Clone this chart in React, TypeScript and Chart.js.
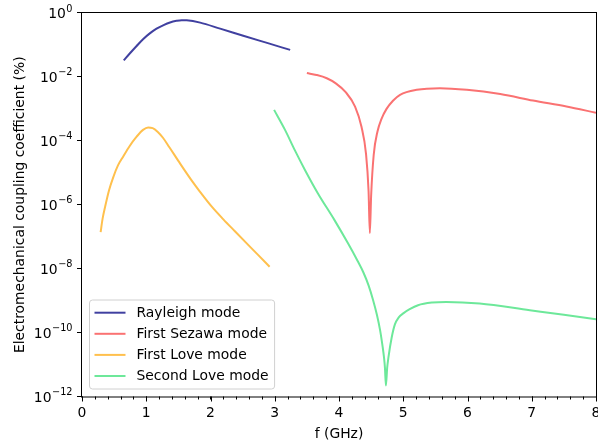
import { useEffect, useRef } from "react";
import { Chart, registerables } from "chart.js";

Chart.register(...registerables);

// ---- data (f in GHz, K² in %) ----
const rayleighF = [0.65, 0.75, 0.85, 0.95, 1.06, 1.16, 1.27, 1.37, 1.47, 1.55, 1.63, 1.84, 2.15, 2.51, 2.88, 3.24];
const rayleighK = [0.0327, 0.056, 0.093, 0.151, 0.234, 0.324, 0.42, 0.507, 0.569, 0.598, 0.592, 0.5, 0.324, 0.195, 0.116, 0.07];

const sezawaF = [3.5, 3.65, 3.81, 3.95, 4.1, 4.25, 4.35, 4.42, 4.46, 4.48, 4.5, 4.54, 4.6, 4.66, 4.74, 4.84, 4.95, 5.21, 5.57, 5.99, 6.51, 7.02, 7.54, 8.0];
const sezawaK = [1.32e-2, 1.15e-2, 9.1e-3, 6.3e-3, 3.4e-3, 1.18e-3, 2.75e-4, 4.0e-5, 2.7e-6, 1.3e-7, 1.9e-6, 3.6e-5, 2.0e-4, 4.8e-4, 1.0e-3, 1.8e-3, 2.75e-3, 3.96e-3, 4.45e-3, 3.96e-3, 2.9e-3, 1.82e-3, 1.18e-3, 7.6e-4];

const love1F = [0.29, 0.32, 0.36, 0.42, 0.49, 0.56, 0.64, 0.74, 0.85, 0.95, 1.03, 1.1, 1.18, 1.26, 1.36, 1.53, 1.7, 1.84, 2.02, 2.2, 2.38, 2.56, 2.74, 2.92];
const love1K = [1.4e-7, 3.6e-7, 8.7e-7, 2.8e-6, 7.6e-6, 1.7e-5, 3.2e-5, 6.8e-5, 1.35e-4, 2.2e-4, 2.6e-4, 2.5e-4, 1.9e-4, 1.25e-4, 6.3e-5, 1.9e-5, 6.0e-6, 2.5e-6, 8.7e-7, 3.5e-7, 1.48e-7, 6.3e-8, 2.7e-8, 1.15e-8];

const love2F = [2.99, 3.16, 3.31, 3.47, 3.67, 3.93, 4.14, 4.29, 4.38, 4.46, 4.53, 4.59, 4.64, 4.68, 4.7, 4.715, 4.73, 4.75, 4.77, 4.82, 4.87, 4.93, 5.0, 5.1, 5.23, 5.45, 5.67, 6.19, 6.97, 7.5, 8.0];
const love2K = [9.3e-4, 2.2e-4, 5.2e-5, 1.23e-5, 2.3e-6, 3.3e-7, 6.2e-8, 1.74e-8, 7.6e-9, 3.0e-9, 1.05e-9, 3.6e-10, 1.17e-10, 3.5e-11, 1.7e-11, 8e-12, 2.2e-12, 8e-12, 1.7e-11, 7.0e-11, 1.8e-10, 3.0e-10, 4.0e-10, 5.4e-10, 7.2e-10, 8.7e-10, 9.1e-10, 8.1e-10, 5.0e-10, 3.6e-10, 2.6e-10];

const seriesNames = ["Rayleigh mode", "First Sezawa mode", "First Love mode", "Second Love mode"];
const seriesColors = ["rgba(0,0,128,0.75)", "#fa7272", "#ffc04d", "#6de89a"];

const xMajorTicks = [0, 1, 2, 3, 4, 5, 6, 7, 8];
const xMinorStep = 0.2;
const yTickExponents = [0, -2, -4, -6, -8, -10, -12];
const xTitle = "f (GHz)";
const yTitle = "Electromechanical coupling coefficient (%)";

const FONT = "'DejaVu Sans', sans-serif";
const FS = 13.9;

const toPoints = (f: number[], k: number[]) => f.map((v, i) => ({ x: v, y: k[i] }));

const axesPlugin = {
  id: "mplAxes",
  afterDraw(chart: any) {
    const { ctx, chartArea: a, scales } = chart;
    const xs = scales.x;
    const ys = scales.y;
    ctx.save();
    ctx.strokeStyle = "#000";
    ctx.fillStyle = "#000";
    ctx.lineWidth = 1;
    // frame
    ctx.strokeRect(a.left - 0.5, a.top - 0.5, a.right - a.left + 1, a.bottom - a.top + 1);
    // ticks
    ctx.beginPath();
    for (let v = 0; v <= 8.0001; v += xMinorStep) {
      const px = Math.round(xs.getPixelForValue(v)) + 0.5;
      ctx.moveTo(px, a.bottom);
      ctx.lineTo(px, a.bottom + 3);
    }
    for (const v of xMajorTicks) {
      const px = Math.round(xs.getPixelForValue(v)) + 0.5;
      ctx.moveTo(px, a.bottom);
      ctx.lineTo(px, a.bottom + 5);
    }
    for (const e of yTickExponents) {
      const py = Math.round(ys.getPixelForValue(Math.pow(10, e))) - 0.5;
      ctx.moveTo(a.left, py);
      ctx.lineTo(a.left - 5, py);
    }
    ctx.stroke();
    // x tick labels
    ctx.font = `${FS}px ${FONT}`;
    ctx.textAlign = "center";
    ctx.textBaseline = "alphabetic";
    for (const v of xMajorTicks) {
      ctx.fillText(String(v), xs.getPixelForValue(v), a.bottom + 20.5);
    }
    // y tick labels 10^e
    const right = a.left - 9.5;
    for (const e of yTickExponents) {
      const py = ys.getPixelForValue(Math.pow(10, e));
      const expStr = e < 0 ? "\u2212" + String(-e) : String(e);
      ctx.font = `${FS * 0.7}px ${FONT}`;
      const ew = ctx.measureText(expStr).width;
      ctx.textAlign = "left";
      ctx.fillText(expStr, right - ew, py - 1.5);
      ctx.font = `${FS}px ${FONT}`;
      const bw = ctx.measureText("10").width;
      ctx.fillText("10", right - ew - bw - 0.5, py + 5);
    }
    // axis titles
    ctx.font = `${FS}px ${FONT}`;
    ctx.textAlign = "center";
    ctx.fillText(xTitle, (a.left + a.right) / 2, a.bottom + 41);
    ctx.save();
    ctx.translate(23.5, (a.top + a.bottom) / 2);
    ctx.rotate(-Math.PI / 2);
    ctx.fillText(yTitle, 0, 0);
    ctx.restore();

    // legend
    const ds = chart.data.datasets;
    ctx.font = `${FS}px ${FONT}`;
    let maxW = 0;
    for (const d of ds) maxW = Math.max(maxW, ctx.measureText(d.label).width);
    const rowH = 21.1;
    const boxL = a.left + 7.5;
    const boxB = a.bottom - 7.5;
    const boxH = 89;
    const boxT = boxB - boxH;
    const boxW = 47 + maxW + 6;
    const r = 3;
    ctx.beginPath();
    ctx.moveTo(boxL + r, boxT);
    ctx.lineTo(boxL + boxW - r, boxT);
    ctx.arcTo(boxL + boxW, boxT, boxL + boxW, boxT + r, r);
    ctx.lineTo(boxL + boxW, boxB - r);
    ctx.arcTo(boxL + boxW, boxB, boxL + boxW - r, boxB, r);
    ctx.lineTo(boxL + r, boxB);
    ctx.arcTo(boxL, boxB, boxL, boxB - r, r);
    ctx.lineTo(boxL, boxT + r);
    ctx.arcTo(boxL, boxT, boxL + r, boxT, r);
    ctx.closePath();
    ctx.fillStyle = "rgba(255,255,255,0.8)";
    ctx.fill();
    ctx.strokeStyle = "#d0d0d0";
    ctx.lineWidth = 1;
    ctx.stroke();
    ctx.textAlign = "left";
    ctx.textBaseline = "middle";
    ds.forEach((d: any, i: number) => {
      const cy = boxT + 12.7 + i * rowH;
      ctx.strokeStyle = d.borderColor;
      ctx.lineWidth = 2;
      ctx.beginPath();
      ctx.moveTo(boxL + 5, cy);
      ctx.lineTo(boxL + 36, cy);
      ctx.stroke();
      ctx.fillStyle = "#000";
      ctx.fillText(d.label, boxL + 47, cy + 0.5);
    });
    ctx.restore();
  },
};

export default function App() {
  const ref = useRef<HTMLCanvasElement | null>(null);
  useEffect(() => {
    document.body.style.margin = "0";
    const canvas = ref.current;
    if (!canvas) return;
    const allF = [rayleighF, sezawaF, love1F, love2F];
    const allK = [rayleighK, sezawaK, love1K, love2K];
    const chart = new Chart(canvas, {
      type: "line",
      data: {
        datasets: seriesNames.map((name, i) => ({
          label: name,
          data: toPoints(allF[i], allK[i]),
          borderColor: seriesColors[i],
          backgroundColor: seriesColors[i],
          borderWidth: 2,
          pointRadius: 0,
          fill: false,
          cubicInterpolationMode: "monotone" as const,
        })),
      },
      options: {
        responsive: false,
        animation: false,
        devicePixelRatio: 1,
        layout: { padding: { left: 82, top: 13, right: 2, bottom: 45.5 } },
        plugins: { legend: { display: false }, tooltip: { enabled: false } },
        scales: {
          x: { type: "linear", min: 0, max: 8, display: false },
          y: { type: "logarithmic", min: 1e-12, max: 1, display: false },
        },
      },
      plugins: [axesPlugin],
    });
    return () => chart.destroy();
  }, []);
  return <canvas ref={ref} width={598} height={442} style={{ display: "block" }} />;
}
